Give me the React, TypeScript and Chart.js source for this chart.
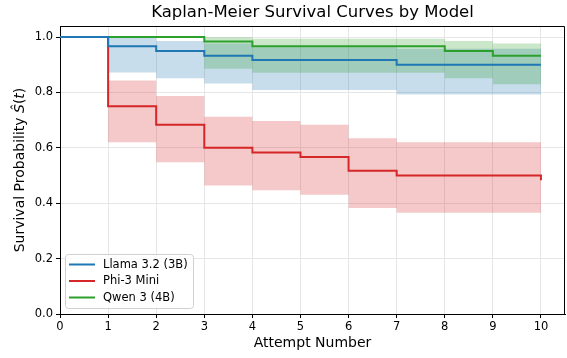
import React, { useEffect, useRef } from 'react';
import { Chart, registerables } from 'chart.js';

Chart.register(...registerables);

// ---- data ----
const times = [0, 1, 2, 3, 4, 5, 6, 7, 8, 9, 10];

const llamaSurv = [1, 0.967, 0.95, 0.933, 0.917, 0.917, 0.917, 0.9, 0.9, 0.9, 0.9];
const llamaUpper = [1, 0.997, 0.986, 0.977, 0.963, 0.963, 0.963, 0.958, 0.958, 0.958, 0.958];
const llamaLower = [1, 0.872, 0.851, 0.832, 0.809, 0.809, 0.809, 0.793, 0.793, 0.793, 0.793];

const phiSurv = [1, 0.75, 0.683, 0.6, 0.583, 0.567, 0.517, 0.5, 0.5, 0.5, 0.483];
const phiUpper = [1, 0.843, 0.787, 0.712, 0.697, 0.683, 0.635, 0.62, 0.62, 0.62, 0.62];
const phiLower = [1, 0.62, 0.548, 0.464, 0.447, 0.431, 0.383, 0.366, 0.366, 0.366, 0.351];

const qwenSurv = [1, 1, 1, 0.984, 0.967, 0.967, 0.967, 0.967, 0.95, 0.933, 0.933];
const qwenUpper = [1, 1, 1, 0.999, 0.994, 0.994, 0.994, 0.994, 0.986, 0.977, 0.977];
const qwenLower = [1, 1, 1, 0.886, 0.871, 0.871, 0.871, 0.871, 0.851, 0.83, 0.83];

const seriesNames = ['Llama 3.2 (3B)', 'Phi-3 Mini', 'Qwen 3 (4B)'];
const seriesColors = ['#1f77b4', '#d62728', '#2ca02c'];
const bandColors = ['rgba(31,119,180,0.25)', 'rgba(214,39,40,0.25)', 'rgba(44,160,44,0.25)'];

const xTickValues = [0, 1, 2, 3, 4, 5, 6, 7, 8, 9, 10];
const yTickValues = [0, 0.2, 0.4, 0.6, 0.8, 1.0];

const titleText = 'Kaplan-Meier Survival Curves by Model';
const xTitleText = 'Attempt Number';
const yTitleMain = 'Survival Probability ';

const FONT = '"DejaVu Sans", "Liberation Sans", sans-serif';

const pts = (arr: number[]) => times.map((t, i) => ({ x: t, y: arr[i] }));

const decorPlugin = {
  id: 'decor',
  afterDraw(chart: any) {
    const ctx = chart.ctx as CanvasRenderingContext2D;
    const a = chart.chartArea;
    ctx.save();
    // frame (top & right spines)
    ctx.strokeStyle = '#000';
    ctx.lineWidth = 1;
    ctx.beginPath();
    ctx.moveTo(a.left, a.top + 0.5);
    ctx.lineTo(a.right - 0.5, a.top + 0.5);
    ctx.lineTo(a.right - 0.5, a.bottom);
    ctx.stroke();

    // title
    ctx.fillStyle = '#000';
    ctx.textAlign = 'center';
    ctx.textBaseline = 'middle';
    ctx.font = `16.5px ${FONT}`;
    const cx = (a.left + a.right) / 2;
    ctx.fillText(titleText, cx, 12.5);

    // x title
    ctx.font = `14px ${FONT}`;
    ctx.fillText(xTitleText, cx, 343);

    // y title (rotated) : Survival Probability Ŝ(t)
    const cy = (a.top + a.bottom) / 2;
    ctx.translate(20, cy);
    ctx.rotate(-Math.PI / 2);
    const fN = `14px ${FONT}`;
    const fI = `italic 14px ${FONT}`;
    const parts: [string, string][] = [
      [yTitleMain, fN],
      ['\u015C', fI],
      ['(', fN],
      ['t', fI],
      [')', fN],
    ];
    let total = 0;
    const widths = parts.map(([s, f]) => {
      ctx.font = f;
      const w = ctx.measureText(s).width;
      total += w;
      return w;
    });
    let x = -total / 2;
    ctx.textAlign = 'left';
    parts.forEach(([s, f], i) => {
      ctx.font = f;
      ctx.fillText(s, x, 0);
      x += widths[i];
    });
    ctx.restore();

    // legend
    ctx.save();
    const lx = 65.5, ly = 254.5, lw = 128, lh = 54, r = 3;
    ctx.beginPath();
    ctx.moveTo(lx + r, ly);
    ctx.lineTo(lx + lw - r, ly);
    ctx.quadraticCurveTo(lx + lw, ly, lx + lw, ly + r);
    ctx.lineTo(lx + lw, ly + lh - r);
    ctx.quadraticCurveTo(lx + lw, ly + lh, lx + lw - r, ly + lh);
    ctx.lineTo(lx + r, ly + lh);
    ctx.quadraticCurveTo(lx, ly + lh, lx, ly + lh - r);
    ctx.lineTo(lx, ly + r);
    ctx.quadraticCurveTo(lx, ly, lx + r, ly);
    ctx.closePath();
    ctx.fillStyle = 'rgba(255,255,255,0.8)';
    ctx.fill();
    ctx.strokeStyle = '#d0d0d0';
    ctx.lineWidth = 1;
    ctx.stroke();
    ctx.font = `11.5px ${FONT}`;
    ctx.textBaseline = 'middle';
    ctx.textAlign = 'left';
    seriesNames.forEach((name, i) => {
      const y = 264.5 + i * 16.5;
      ctx.strokeStyle = seriesColors[i];
      ctx.lineWidth = 2;
      ctx.beginPath();
      ctx.moveTo(69, y);
      ctx.lineTo(95, y);
      ctx.stroke();
      ctx.fillStyle = '#000';
      ctx.fillText(name, 103, y + 0.5);
    });
    ctx.restore();
  },
};

export default function App() {
  const ref = useRef<HTMLCanvasElement>(null);
  useEffect(() => {
    const canvas = ref.current;
    if (!canvas) return;
    const lineDs = (label: string, data: number[], color: string) => ({
      label,
      data: pts(data),
      borderColor: color,
      backgroundColor: color,
      borderWidth: 2,
      pointRadius: 0,
      stepped: 'before' as const,
      fill: false,
      tension: 0,
    });
    const bandDs = (data: number[], color: string, fill: any) => ({
      label: '',
      data: pts(data),
      borderColor: 'rgba(0,0,0,0)',
      backgroundColor: color,
      borderWidth: 0,
      pointRadius: 0,
      stepped: 'before' as const,
      fill,
      tension: 0,
    });
    const chart = new Chart(canvas, {
      type: 'line',
      data: {
        datasets: [
          lineDs(seriesNames[0], llamaSurv, seriesColors[0]),
          lineDs(seriesNames[1], phiSurv, seriesColors[1]),
          lineDs(seriesNames[2], qwenSurv, seriesColors[2]),
          bandDs(qwenUpper, bandColors[2], '+1'),
          bandDs(qwenLower, bandColors[2], false),
          bandDs(phiUpper, bandColors[1], '+1'),
          bandDs(phiLower, bandColors[1], false),
          bandDs(llamaUpper, bandColors[0], '+1'),
          bandDs(llamaLower, bandColors[0], false),
        ] as any,
      },
      options: {
        animation: false,
        responsive: false,
        maintainAspectRatio: false,
        layout: { padding: { top: 26, right: 2, left: 0, bottom: 0 } },
        plugins: {
          legend: { display: false },
          title: { display: false },
          tooltip: { enabled: false },
          filler: { drawTime: 'beforeDatasetsDraw' } as any,
        },
        scales: {
          x: {
            type: 'linear',
            min: 0,
            max: 10.5,
            ticks: {
              stepSize: 1,
              color: '#000',
              font: { family: FONT, size: 11.5 },
              padding: 2,
              maxRotation: 0,
              callback: (v: any) => String(v),
            },
            afterBuildTicks: (s: any) => {
              s.ticks = xTickValues.map((v) => ({ value: v }));
            },
            afterFit: (s: any) => {
              s.height = 44;
            },
            grid: {
              color: '#e6e6e6',
              lineWidth: 1,
              tickColor: '#000',
              tickLength: 4,
              tickWidth: 1,
            } as any,
            border: { display: true, color: '#000', width: 1 },
          },
          y: {
            type: 'linear',
            min: 0,
            max: 1.04,
            ticks: {
              stepSize: 0.2,
              color: '#000',
              font: { family: FONT, size: 11.5 },
              padding: 3,
              callback: (v: any) => Number(v).toFixed(1),
            },
            afterBuildTicks: (s: any) => {
              s.ticks = yTickValues.map((v) => ({ value: v }));
            },
            afterFit: (s: any) => {
              s.width = 60;
            },
            grid: {
              color: '#e6e6e6',
              lineWidth: 1,
              tickColor: '#000',
              tickLength: 4,
              tickWidth: 1,
            } as any,
            border: { display: true, color: '#000', width: 1 },
          },
        },
      },
      plugins: [decorPlugin],
    });
    return () => chart.destroy();
  }, []);
  return (
    <div style={{ position: 'fixed', left: 0, top: 0, width: 567, height: 358, background: '#fff' }}>
      <canvas ref={ref} width={567} height={358} style={{ display: 'block', width: 567, height: 358 }} />
    </div>
  );
}
